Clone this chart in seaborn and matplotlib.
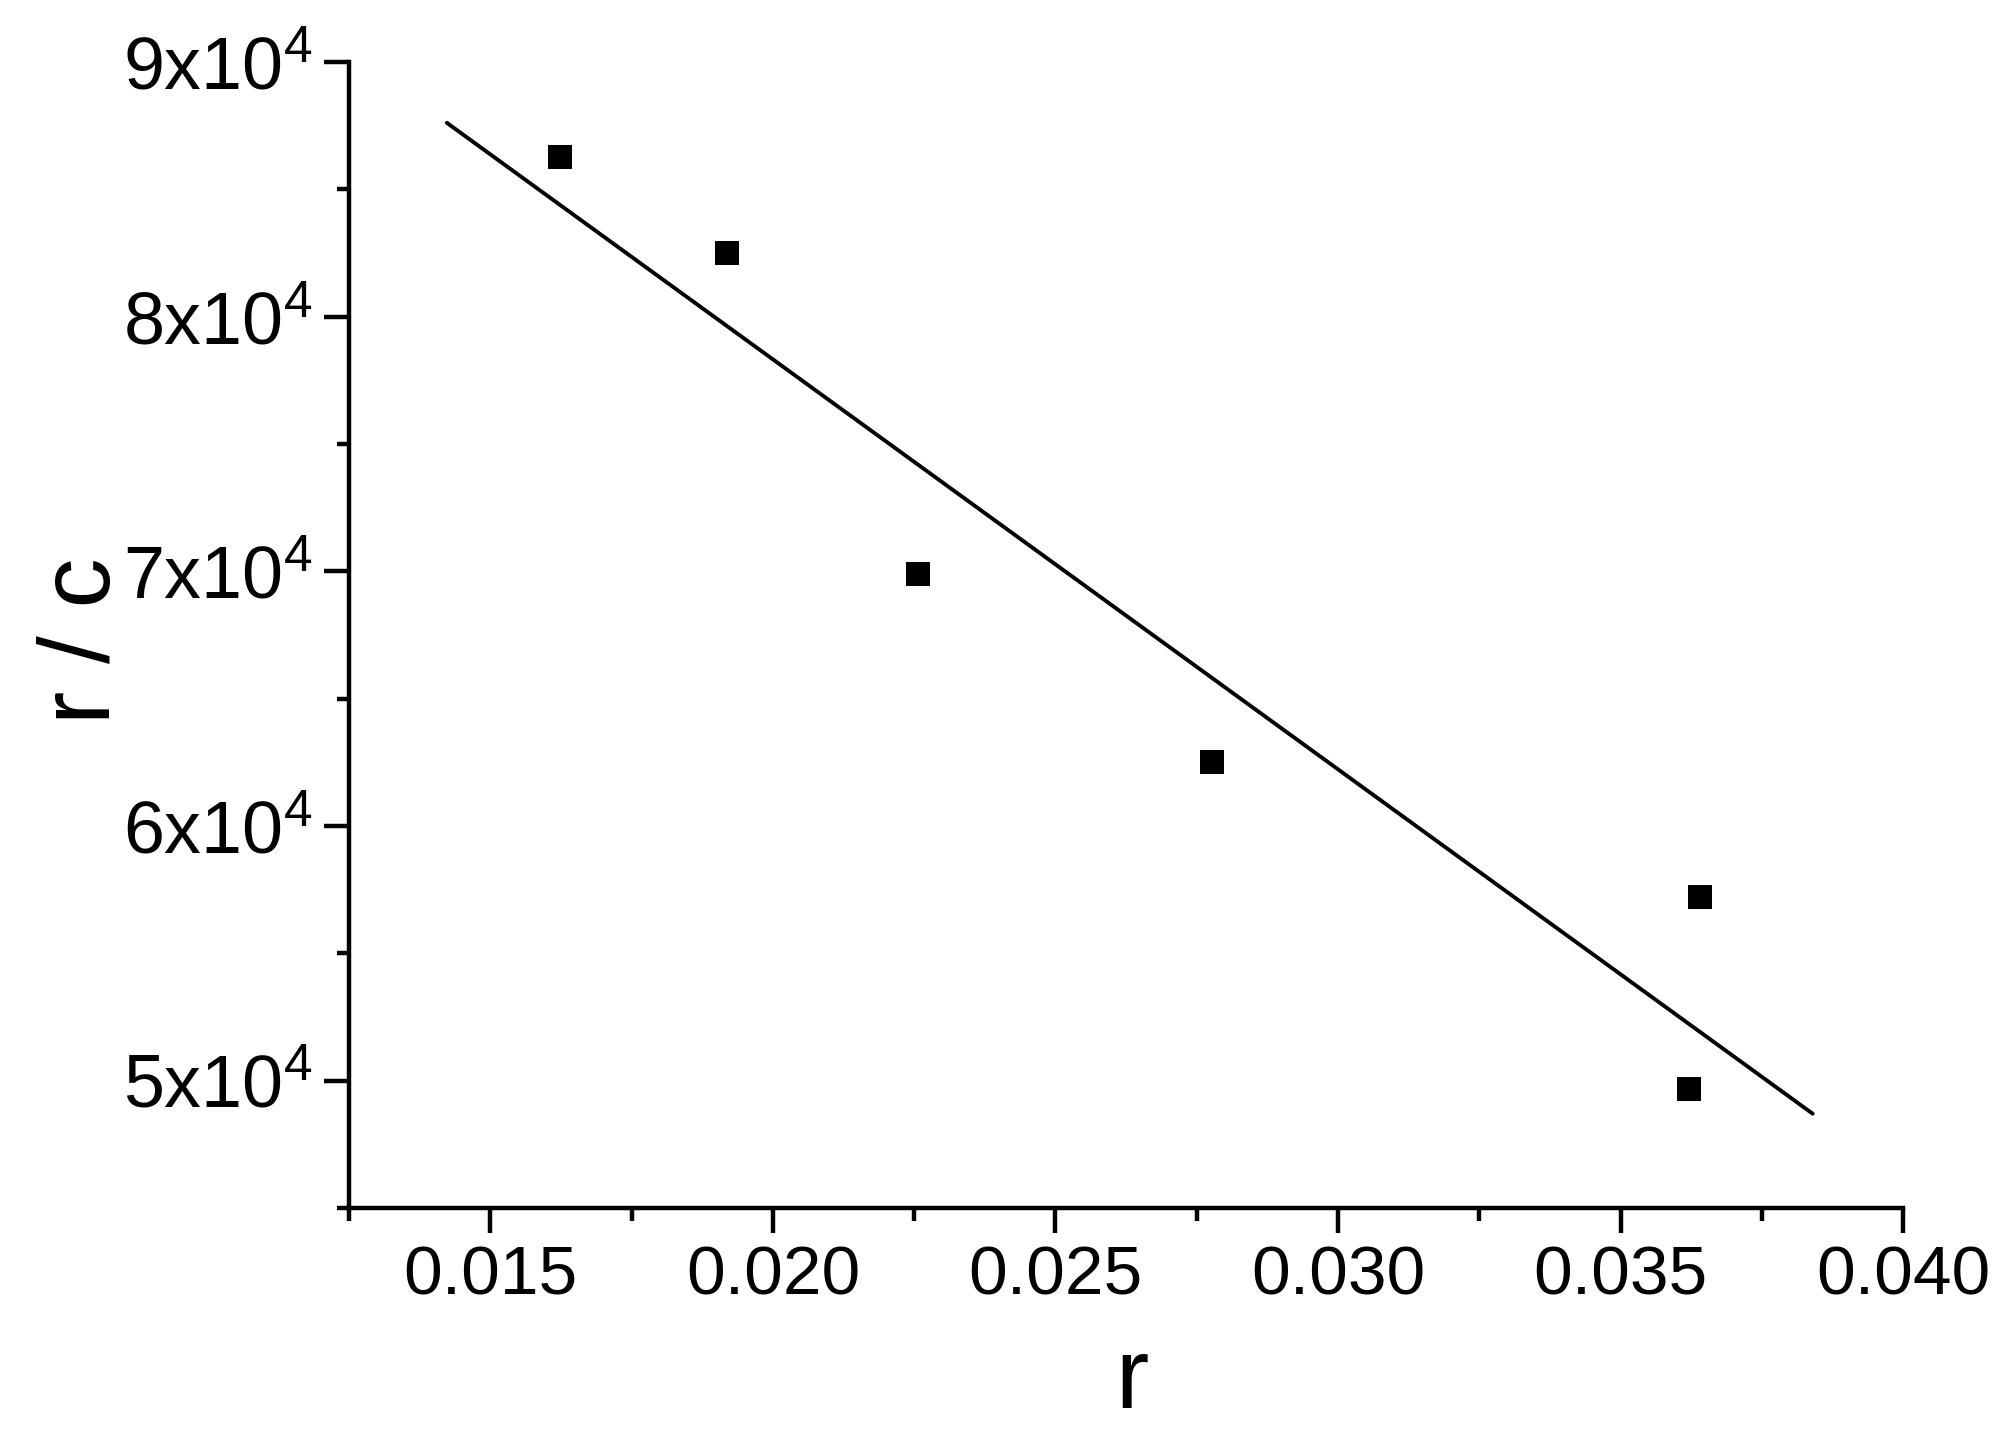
# Linearised isotherm plot: r/c against r with a straight-line fit
import pandas as pd
import matplotlib.pyplot as plt
import seaborn as sns
from matplotlib.ticker import MultipleLocator, FixedLocator

# Data
r_values = [0.01623, 0.01918, 0.02256, 0.02777, 0.03640, 0.03622]
rc_values = [86279, 82507, 69882, 62507, 57230, 49686]

# Fitted line end points
fit_r = [0.01423, 0.03840]
fit_rc = [87615, 48703]

x_ticks = [0.015, 0.020, 0.025, 0.030, 0.035, 0.040]
x_tick_labels = ['0.015', '0.020', '0.025', '0.030', '0.035', '0.040']
y_ticks = [50000, 60000, 70000, 80000, 90000]
y_tick_labels = ['5x10$^{4}$', '6x10$^{4}$', '7x10$^{4}$', '8x10$^{4}$', '9x10$^{4}$']

points = pd.DataFrame({'r': r_values, 'rc': rc_values})
fit = pd.DataFrame({'r': fit_r, 'rc': fit_rc})

sns.set_style("ticks")
plt.rcParams['font.family'] = ['Liberation Sans', 'DejaVu Sans']
plt.rcParams['mathtext.fontset'] = 'custom'
plt.rcParams['mathtext.rm'] = 'Liberation Sans'
plt.rcParams['mathtext.it'] = 'Liberation Sans'
plt.rcParams['text.color'] = 'black'
plt.rcParams['axes.labelcolor'] = 'black'
plt.rcParams['xtick.color'] = 'black'
plt.rcParams['ytick.color'] = 'black'

fig = plt.figure(figsize=(20.06, 14.5), dpi=100)
ax = fig.add_axes([0.174, 0.1669, 0.7747, 0.7903])

sns.lineplot(data=fit, x='r', y='rc', ax=ax, color='black', linewidth=2.8)
sns.scatterplot(data=points, x='r', y='rc', ax=ax, marker='s', s=300,
                color='black', linewidth=0)

ax.set_xlim(0.0125, 0.040)
ax.set_ylim(45000, 90000)

ax.set_xticks(x_ticks)
ax.set_xticklabels(x_tick_labels)
ax.xaxis.set_minor_locator(MultipleLocator(0.0025))
ax.yaxis.set_major_locator(FixedLocator(y_ticks))
ax.set_yticklabels(y_tick_labels)
ax.yaxis.set_minor_locator(MultipleLocator(5000))

sns.despine(ax=ax)
for side in ['left', 'bottom']:
    ax.spines[side].set_linewidth(3.2)
    ax.spines[side].set_color('black')

ax.tick_params(axis='both', which='major', direction='out', length=18,
               width=3.2, color='black')
ax.tick_params(axis='both', which='minor', direction='out', length=9,
               width=3.2, color='black')
ax.tick_params(axis='x', which='major', labelsize=50, pad=8)
ax.tick_params(axis='y', which='major', labelsize=53, pad=8)

ax.set_xlabel('r', fontsize=72)
ax.set_ylabel('r / c', fontsize=72)
ax.xaxis.set_label_coords(0.504, -0.111)
ax.yaxis.set_label_coords(-0.140, 0.495)

plt.savefig('out.png', dpi=100, facecolor='white')
